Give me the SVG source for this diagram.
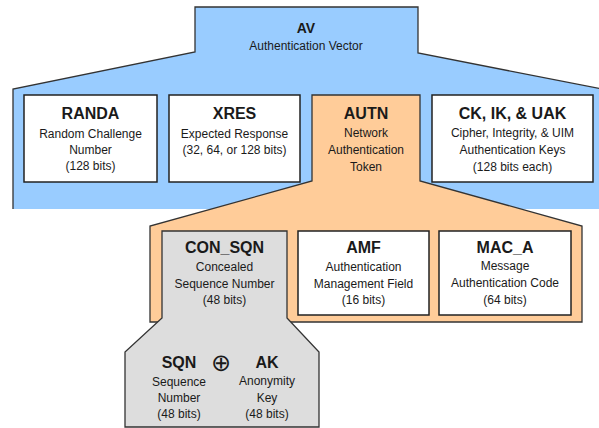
<svg xmlns="http://www.w3.org/2000/svg" width="599" height="428" viewBox="0 0 599 428">
<style>
.sh{stroke:#333;stroke-width:1.3;stroke-linejoin:miter}
.ln{fill:none;stroke:#333;stroke-width:1.3}
.box{fill:#fff;stroke:#222;stroke-width:1.5}
text{font-family:"Liberation Sans",Arial,sans-serif;fill:#1a1a1a;text-anchor:middle}
.t{font-size:16px;font-weight:bold}
.s{font-size:12px}
</style>
<rect width="599" height="428" fill="#fff"/>
<g id="av">
<polygon fill="#99ccff" points="195,7 418,7 418,53 602,89 602,209 13,209 13,89 195,52"/>
<polyline class="ln" points="13,209 13,89 195,52 195,7 418,7 418,53 602,89"/>
<text x="306" y="33" style="font-size:14px;font-weight:bold">AV</text>
<text x="306" y="50" class="s">Authentication Vector</text>
</g>
<g id="randa">
<rect class="box" x="24" y="95" width="133" height="87"/>
<text x="90.5" y="119" class="t">RANDA</text>
<text x="90.5" y="138" class="s">Random Challenge</text>
<text x="90.5" y="154" class="s">Number</text>
<text x="90.5" y="170" class="s">(128 bits)</text>
</g>
<g id="xres">
<rect class="box" x="169" y="95" width="131" height="87"/>
<text x="234.5" y="119" class="t">XRES</text>
<text x="234.5" y="138" class="s">Expected Response</text>
<text x="234.5" y="154" class="s">(32, 64, or 128 bits)</text>
</g>
<g id="autn">
<polygon class="sh" fill="#ffcc99" points="312,95 420,95 420,181 582,226 582,322 150,322 150,226 312,181"/>
<text x="366" y="119" class="t">AUTN</text>
<text x="366" y="137" class="s">Network</text>
<text x="366" y="154" class="s">Authentication</text>
<text x="366" y="171" class="s">Token</text>
</g>
<g id="ck">
<rect class="box" x="432" y="95" width="161" height="87"/>
<text x="512.5" y="119" class="t">CK, IK, &amp; UAK</text>
<text x="512.5" y="137" class="s">Cipher, Integrity, &amp; UIM</text>
<text x="512.5" y="154" class="s">Authentication Keys</text>
<text x="512.5" y="171" class="s">(128 bits each)</text>
</g>
<g id="con_sqn">
<polygon class="sh" fill="#dddddd" points="162,231 287,231 287,318 319,352 319,427 125,427 125,352 162,318"/>
<text x="224.5" y="253" class="t">CON_SQN</text>
<text x="224.5" y="271" class="s">Concealed</text>
<text x="224.5" y="288" class="s">Sequence Number</text>
<text x="224.5" y="304" class="s">(48 bits)</text>
</g>
<g id="amf">
<rect class="box" x="298" y="231" width="131" height="84"/>
<text x="363.5" y="253" class="t">AMF</text>
<text x="363.5" y="271" class="s">Authentication</text>
<text x="363.5" y="288" class="s">Management Field</text>
<text x="363.5" y="304" class="s">(16 bits)</text>
</g>
<g id="mac_a">
<rect class="box" x="439" y="231" width="132" height="84"/>
<text x="505" y="253" class="t">MAC_A</text>
<text x="505" y="270" class="s">Message</text>
<text x="505" y="287" class="s">Authentication Code</text>
<text x="505" y="304" class="s">(64 bits)</text>
</g>
<g id="sqn">
<text x="179" y="368" class="t">SQN</text>
<text x="179" y="386" class="s">Sequence</text>
<text x="179" y="402" class="s">Number</text>
<text x="179" y="418" class="s">(48 bits)</text>
</g>
<g id="xor">
<text x="221" y="371" style="font-size:24px;font-family:'DejaVu Sans',sans-serif">⊕</text>
</g>
<g id="ak">
<text x="267" y="368" class="t">AK</text>
<text x="267" y="385" class="s">Anonymity</text>
<text x="267" y="402" class="s">Key</text>
<text x="267" y="418" class="s">(48 bits)</text>
</g>
</svg>
